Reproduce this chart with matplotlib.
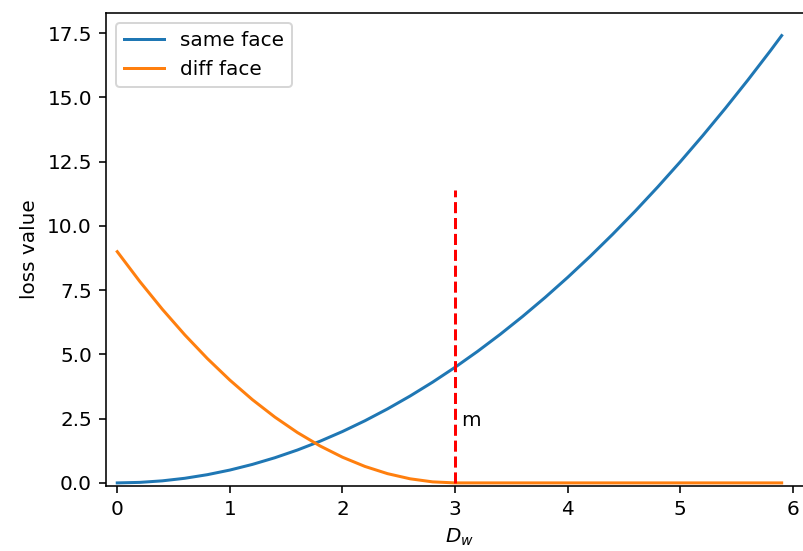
import matplotlib.pyplot as plt

# distance values and the two loss curves
dw = [0.0, 0.2, 0.4, 0.6, 0.8, 1.0, 1.2, 1.4, 1.6, 1.8, 2.0, 2.2, 2.4, 2.6, 2.8, 3.0,
      3.2, 3.4, 3.6, 3.8, 4.0, 4.2, 4.4, 4.6, 4.8, 5.0, 5.2, 5.4, 5.6, 5.8, 5.9]
same_face = [0.0, 0.02, 0.08, 0.18, 0.32, 0.5, 0.72, 0.98, 1.28, 1.62, 2.0, 2.42, 2.88,
             3.38, 3.92, 4.5, 5.12, 5.78, 6.48, 7.22, 8.0, 8.82, 9.68, 10.58, 11.52,
             12.5, 13.52, 14.58, 15.68, 16.82, 17.41]
diff_face = [9.0, 7.84, 6.76, 5.76, 4.84, 4.0, 3.24, 2.56, 1.96, 1.44, 1.0, 0.64, 0.36,
             0.16, 0.04, 0.0, 0.0, 0.0, 0.0, 0.0, 0.0, 0.0, 0.0, 0.0, 0.0, 0.0, 0.0,
             0.0, 0.0, 0.0, 0.0]
margin = 3
margin_top = 11.4

dpi = 144
fig = plt.figure(figsize=(803 / dpi, 551 / dpi), dpi=dpi)
# right spine falls just outside the picture, as in the cropped original
ax = fig.add_axes([0.132, 0.118, 0.88, 0.858])

ax.plot(dw, same_face, label="same face")
ax.plot(dw, diff_face, label="diff face")
ax.plot([margin, margin], [0, margin_top], "r--")
ax.text(margin + 0.05, 2.2, "m")

ax.set_xlim(-0.1, 6.175)
ax.set_ylim(-0.12, 18.28)
ax.set_xlabel("$D_w$")
ax.set_ylabel("loss value")
ax.legend(loc="upper left")

fig.savefig("out.png", dpi=dpi)
